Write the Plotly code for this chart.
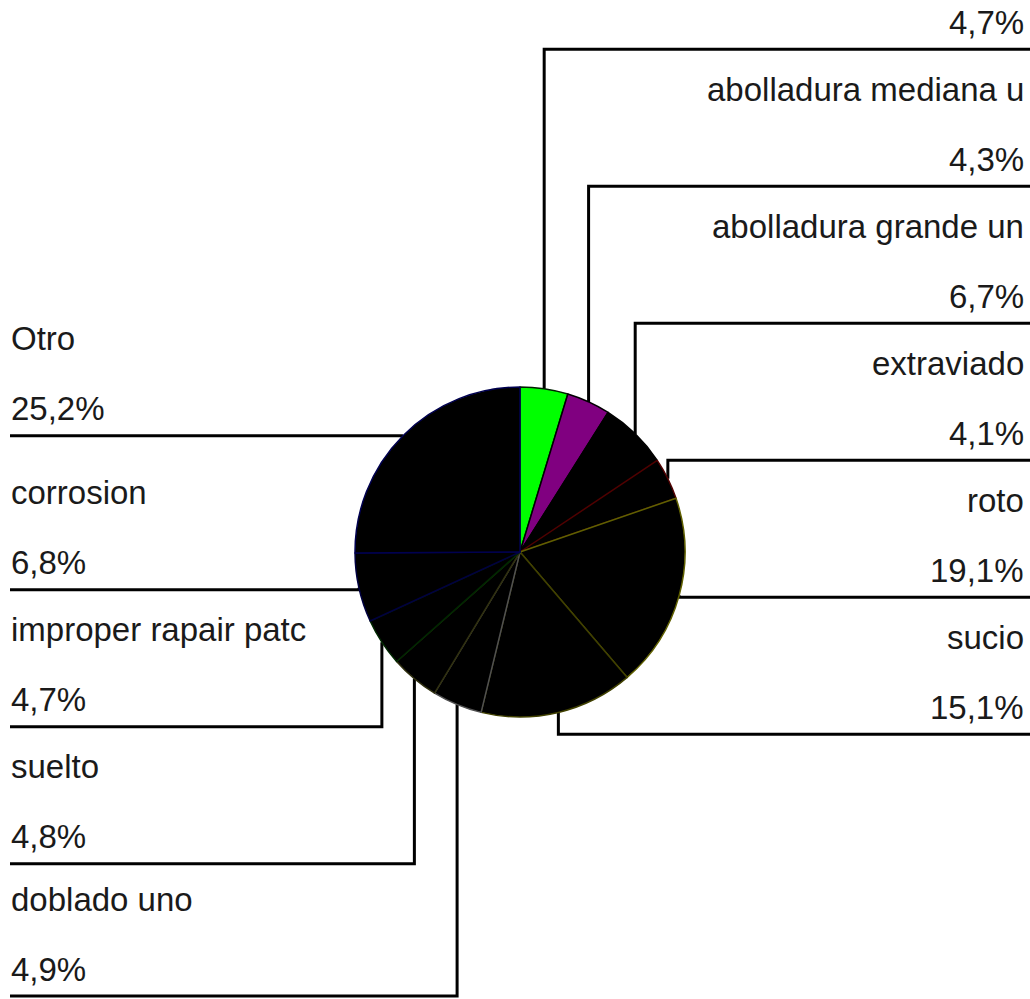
import math
import plotly.graph_objects as go

# ---- data (clockwise from 12 o'clock) ----
labels = ["abolladura pequeña u", "abolladura mediana u", "abolladura grande un",
          "extraviado", "roto", "sucio", "doblado uno", "suelto",
          "improper rapair patc", "corrosion", "Otro"]
values = [4.7, 4.3, 6.7, 4.1, 19.1, 15.1, 4.9, 4.8, 4.7, 6.8, 25.2]

# ---- styles ----
fill_colors = ["#00ff00", "#800080", "#000000", "#000000", "#000000", "#000000",
               "#000000", "#000000", "#000000", "#000000", "#000000"]
edge_colors = ["#002000", "#000000", "#000000", "#500000", "#606000", "#404000",
               "#505050", "#303010", "#002800", "#000040", "#000050"]

W, H = 1030, 999
CX, CY, R = 520, 552, 165
GAP = 137
LINE_DY = 2
BOTTOM_LIMIT = H - 3
FONT = "Liberation Sans, Arial, sans-serif"
FS = 33


def fmt(v):
    return f"{v:.1f}".replace(".", ",") + "%"


total = sum(values)
cum = 0.0
info = []
for i, v in enumerate(values):
    mid = (cum + v / 2) / total * 2 * math.pi
    cum += v
    ax = CX + R * math.sin(mid)
    ay = CY - R * math.cos(mid)
    info.append({"i": i, "ang": mid, "ax": ax, "ay": ay, "right": mid < math.pi})


def spread(items):
    # items ordered top to bottom
    if not items:
        return
    p = min(range(len(items)), key=lambda k: abs(items[k]["ay"] - CY))
    items[p]["ly"] = items[p]["ay"] + LINE_DY
    for k in range(p + 1, len(items)):
        items[k]["ly"] = min(max(items[k]["ay"], items[k - 1]["ly"] + GAP), BOTTOM_LIMIT)
    for k in range(p - 1, -1, -1):
        items[k]["ly"] = min(items[k]["ay"], items[k + 1]["ly"] - GAP)


right = sorted([d for d in info if d["right"]], key=lambda d: d["ang"])
left = sorted([d for d in info if not d["right"]], key=lambda d: -d["ang"])
spread(right)
spread(left)

lx, ly = [], []
annotations = []
for side, items in (("r", right), ("l", left)):
    edge = W if side == "r" else 10
    tx = W - 4 if side == "r" else 9
    anchor = "right" if side == "r" else "left"
    for d in items:
        lx += [d["ax"], d["ax"], edge, None]
        ly += [d["ay"], d["ly"], d["ly"], None]
        for text, dy in ((labels[d["i"]], 97), (fmt(values[d["i"]]), 27)):
            y = d["ly"] - dy
            if 0 <= y <= H:
                annotations.append(dict(x=tx, y=y, xref="x", yref="y", text=text,
                                        showarrow=False, xanchor=anchor, yanchor="middle",
                                        font=dict(family=FONT, size=FS, color="#1a1a1a")))

fig = go.Figure()
fig.add_trace(go.Scatter(x=lx, y=ly, mode="lines", line=dict(color="#000000", width=3),
                         hoverinfo="skip", showlegend=False, cliponaxis=False))
fig.add_trace(go.Pie(labels=labels, values=values, sort=False, direction="clockwise",
                     rotation=0, textinfo="none", showlegend=False,
                     marker=dict(colors=fill_colors, line=dict(color=edge_colors, width=1.5)),
                     domain=dict(x=[(CX - R) / W, (CX + R) / W],
                                 y=[(H - CY - R) / H, (H - CY + R) / H])))

fig.update_layout(
    width=W, height=H, margin=dict(l=0, r=0, t=0, b=0),
    paper_bgcolor="white", plot_bgcolor="white",
    xaxis=dict(range=[0, W], visible=False, fixedrange=True, domain=[0, 1]),
    yaxis=dict(range=[H, 0], visible=False, fixedrange=True, domain=[0, 1]),
    annotations=annotations,
)

fig.write_html("out.html")
